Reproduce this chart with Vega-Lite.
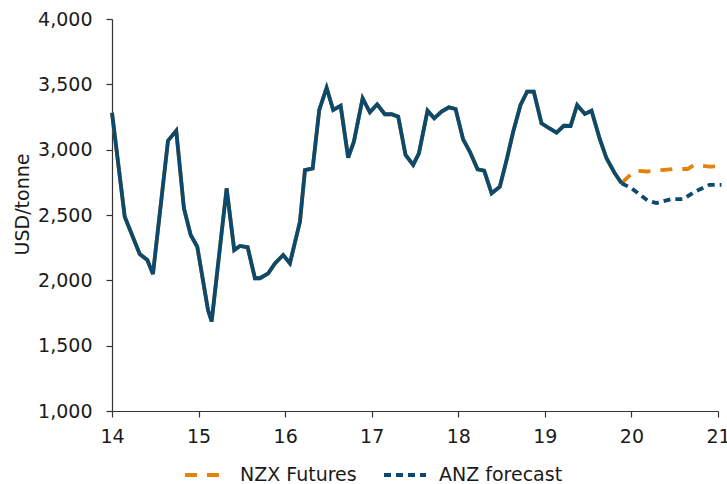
{
  "$schema": "https://vega.github.io/schema/vega-lite/v6.json",
  "autosize": {"type": "none"},
  "padding": {"left": 112, "top": 19, "right": 9, "bottom": 73},
  "width": 606,
  "height": 392,
  "background": "white",
  "config": {
    "view": {"stroke": null},
    "font": "DejaVu Sans",
    "axis": {"grid": false, "domainColor": "#333333", "tickColor": "#333333", "labelColor": "#1a1a1a", "titleColor": "#1a1a1a", "labelFont": "DejaVu Sans", "titleFont": "DejaVu Sans", "labelFontSize": 19, "titleFontSize": 19, "titleFontWeight": "normal", "tickSize": 6, "domainWidth": 1.2, "tickWidth": 1.2}
  },
  "datasets": {
    "hist": [
      {"x": 14.000, "v": 3283}, {"x": 14.147, "v": 2487}, {"x": 14.320, "v": 2201}, {"x": 14.408, "v": 2156},
      {"x": 14.473, "v": 2048}, {"x": 14.647, "v": 3069}, {"x": 14.742, "v": 3145}, {"x": 14.831, "v": 2551},
      {"x": 14.909, "v": 2347}, {"x": 14.985, "v": 2257}, {"x": 15.109, "v": 1773}, {"x": 15.151, "v": 1685},
      {"x": 15.324, "v": 2704}, {"x": 15.412, "v": 2232}, {"x": 15.478, "v": 2263}, {"x": 15.567, "v": 2253},
      {"x": 15.651, "v": 2016}, {"x": 15.709, "v": 2016}, {"x": 15.805, "v": 2054}, {"x": 15.882, "v": 2130},
      {"x": 15.978, "v": 2194}, {"x": 16.055, "v": 2130}, {"x": 16.171, "v": 2449}, {"x": 16.229, "v": 2844},
      {"x": 16.318, "v": 2857}, {"x": 16.394, "v": 3304}, {"x": 16.479, "v": 3474}, {"x": 16.555, "v": 3304},
      {"x": 16.641, "v": 3336}, {"x": 16.728, "v": 2939}, {"x": 16.794, "v": 3061}, {"x": 16.895, "v": 3393},
      {"x": 16.979, "v": 3286}, {"x": 17.063, "v": 3347}, {"x": 17.152, "v": 3271}, {"x": 17.230, "v": 3271},
      {"x": 17.306, "v": 3252}, {"x": 17.391, "v": 2959}, {"x": 17.479, "v": 2883}, {"x": 17.545, "v": 2972},
      {"x": 17.645, "v": 3298}, {"x": 17.722, "v": 3240}, {"x": 17.807, "v": 3291}, {"x": 17.891, "v": 3324},
      {"x": 17.969, "v": 3311}, {"x": 18.056, "v": 3079}, {"x": 18.134, "v": 2984}, {"x": 18.223, "v": 2850},
      {"x": 18.299, "v": 2839}, {"x": 18.385, "v": 2666}, {"x": 18.480, "v": 2717}, {"x": 18.558, "v": 2921},
      {"x": 18.634, "v": 3137}, {"x": 18.719, "v": 3342}, {"x": 18.795, "v": 3444}, {"x": 18.872, "v": 3444},
      {"x": 18.961, "v": 3202}, {"x": 19.050, "v": 3164}, {"x": 19.135, "v": 3130}, {"x": 19.219, "v": 3183},
      {"x": 19.297, "v": 3181}, {"x": 19.373, "v": 3342}, {"x": 19.462, "v": 3273}, {"x": 19.539, "v": 3298},
      {"x": 19.635, "v": 3080}, {"x": 19.712, "v": 2934}, {"x": 19.808, "v": 2819}, {"x": 19.886, "v": 2743}
    ],
    "fc": [
      {"x": 19.886, "v": 2743, "s": "NZX Futures"}, {"x": 20.04, "v": 2840, "s": "NZX Futures"},
      {"x": 20.18, "v": 2833, "s": "NZX Futures"}, {"x": 20.35, "v": 2844, "s": "NZX Futures"},
      {"x": 20.48, "v": 2852, "s": "NZX Futures"}, {"x": 20.65, "v": 2852, "s": "NZX Futures"},
      {"x": 20.72, "v": 2883, "s": "NZX Futures"}, {"x": 20.9, "v": 2870, "s": "NZX Futures"},
      {"x": 21.05, "v": 2875, "s": "NZX Futures"},
      {"x": 19.886, "v": 2743, "s": "ANZ forecast"}, {"x": 20.0, "v": 2705, "s": "ANZ forecast"},
      {"x": 20.19, "v": 2609, "s": "ANZ forecast"}, {"x": 20.29, "v": 2592, "s": "ANZ forecast"},
      {"x": 20.46, "v": 2622, "s": "ANZ forecast"}, {"x": 20.6, "v": 2622, "s": "ANZ forecast"},
      {"x": 20.73, "v": 2678, "s": "ANZ forecast"}, {"x": 20.9, "v": 2730, "s": "ANZ forecast"},
      {"x": 21.04, "v": 2730, "s": "ANZ forecast"}
    ]
  },
  "encoding": {
    "x": {"field": "x", "type": "quantitative", "scale": {"domain": [14, 21], "nice": false, "zero": false},
          "axis": {"values": [14, 15, 16, 17, 18, 19, 20, 21], "format": "d", "title": null, "labelPadding": 10, "labelFlush": false}},
    "y": {"field": "v", "type": "quantitative", "scale": {"domain": [1000, 4000], "nice": false, "zero": false},
          "axis": {"values": [1000, 1500, 2000, 2500, 3000, 3500, 4000], "format": ",d", "title": "USD/tonne", "labelPadding": 14, "titlePadding": 5, "titleY": 185}}
  },
  "layer": [
    {"data": {"name": "hist"}, "mark": {"type": "line", "color": "#E5820E", "strokeWidth": 3.8}},
    {"data": {"name": "fc"}, "mark": {"type": "line", "strokeWidth": 3.8},
     "encoding": {
       "color": {"field": "s", "type": "nominal", "scale": {"domain": ["NZX Futures", "ANZ forecast"], "range": ["#E5820E", "#0A4A6E"]},
                 "legend": {"title": null, "orient": "none", "direction": "horizontal", "legendX": 71, "legendY": 446, "clipHeight": 20, "symbolType": "stroke", "symbolSize": 1764, "symbolStrokeWidth": 3.8, "labelFontSize": 19, "labelFont": "DejaVu Sans", "labelColor": "#1a1a1a", "labelOffset": 11, "labelLimit": 400, "columnPadding": 25, "padding": 0}},
       "strokeDash": {"field": "s", "type": "nominal", "scale": {"domain": ["NZX Futures", "ANZ forecast"], "range": [[12, 10], [7, 5]]}}
     }},
    {"data": {"name": "hist"}, "mark": {"type": "line", "color": "#0A4A6E", "strokeWidth": 3.8}}
  ]
}
